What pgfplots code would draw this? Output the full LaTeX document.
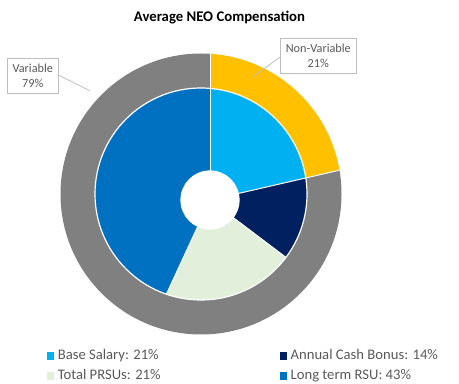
\documentclass[border=0pt]{standalone}
\usepackage{fontspec}
\setmainfont{Carlito}
\usepackage{pgfplots}
\usepackage{pgfplotstable}
\pgfplotsset{compat=1.18}
\definecolor{cGold}{HTML}{FFC000}
\definecolor{cGray}{HTML}{808080}
\definecolor{cSky}{HTML}{00B0F0}
\definecolor{cNavy}{HTML}{002060}
\definecolor{cMint}{HTML}{E2EFDA}
\definecolor{cBlue}{HTML}{0070C0}
\definecolor{cText}{HTML}{595959}
\definecolor{cBox}{HTML}{BFBFBF}

\pgfplotstableread{
part value color
Non-Variable 21.4 cGold
Variable 78.6 cGray
}\ringdata
\pgfplotstableread{
part value color
BaseSalary 21.4 cSky
AnnualCashBonus 13.9 cNavy
TotalPRSUs 21.6 cMint
LongTermRSU 43.1 cBlue
}\piedata

\newcommand\drawwedges[3]{%
  \begin{scope}
  \clip (axis cs:201,190) circle[radius=#3];
  \xdef\curang{90}%
  \foreach \i in {0,...,#2} {%
    \pgfplotstablegetelem{\i}{value}\of#1\let\val\pgfplotsretval
    \pgfplotstablegetelem{\i}{color}\of#1\let\col\pgfplotsretval
    \pgfmathsetmacro\nextang{\curang-3.6*\val}%
    \fill[fill=\col] (axis cs:210,184) -- ++(\curang:220bp) arc[start angle=\curang, end angle=\nextang, radius=220bp] -- cycle;
    \xdef\curang{\nextang}%
  }%
  \xdef\curang{90}%
  \foreach \i in {0,...,#2} {%
    \pgfplotstablegetelem{\i}{value}\of#1\let\val\pgfplotsretval
    \draw[white, line width=1bp] (axis cs:210,184) -- ++(\curang:220bp);
    \pgfmathsetmacro\nextang{\curang-3.6*\val}%
    \xdef\curang{\nextang}%
  }%
  \end{scope}%
}

\pgfplotsset{sq/.style={legend image code/.code={\fill[##1] (0bp,-3.8bp) rectangle (7.6bp,3.8bp);}}}

\begin{document}
\begin{tikzpicture}
\useasboundingbox (0,0) rectangle (459bp,384bp);
\begin{axis}[
  width=459bp, height=384bp, scale only axis,
  xmin=0, xmax=459, ymin=0, ymax=384,
  hide axis, clip=false,
  legend cell align=left,
  legend style={draw=none, fill=none, at={(axis cs:46.7,34.5)}, anchor=north west,
    legend columns=2, font=\fontsize{14.7}{16}\selectfont, text=cText,
    inner sep=0pt, outer sep=0pt,
    nodes={inner sep=0pt, text height=10bp, text depth=3bp},
    row sep=7.3bp,
    /tikz/every odd column/.append style={column sep=3.5bp},
    /tikz/every even column/.append style={column sep=119bp}},
]
\addlegendimage{sq, fill=cSky, draw=none}
\addlegendentry{Base Salary: 21\%}
\addlegendimage{sq, fill=cNavy, draw=none}
\addlegendentry{Annual Cash Bonus: 14\%}
\addlegendimage{sq, fill=cMint, draw=none}
\addlegendentry{Total PRSUs: 21\%}
\addlegendimage{sq, fill=cBlue, draw=none}
\addlegendentry{Long term RSU: 43\%}
\pgfplotsextra{
  \drawwedges{\ringdata}{1}{140.5bp}
  \drawwedges{\piedata}{3}{106bp}
  \draw[white, line width=1.2bp] (axis cs:201,190) circle[radius=106bp];
  \fill[white] (axis cs:210,184) circle[radius=29.6bp];
  % leader lines
  \draw[cBox, line width=0.8bp] (axis cs:280,326.9) -- (axis cs:253.3,307.3);
  \draw[cBox, line width=0.8bp] (axis cs:58.3,309) -- (axis cs:90,293.3);
  % data label boxes
  \node[draw=cBox, fill=white, line width=0.8bp, text=cText, align=center,
        minimum width=76.7bp, minimum height=35bp, inner sep=0pt,
        font=\fontsize{12.3}{14.3}\selectfont]
    at (axis cs:318.3,328.2) {Non-Variable\\21\%};
  \node[draw=cBox, fill=white, line width=0.8bp, text=cText, align=center,
        minimum width=51bp, minimum height=35bp, inner sep=0pt,
        font=\fontsize{12.3}{14.3}\selectfont]
    at (axis cs:32.8,308.2) {Variable\\79\%};
  % title
  \node[font=\fontsize{14.8}{17}\selectfont\bfseries, text=black]
    at (axis cs:219.5,366.7) {Average NEO Compensation};
}
\end{axis}
\end{tikzpicture}
\end{document}
